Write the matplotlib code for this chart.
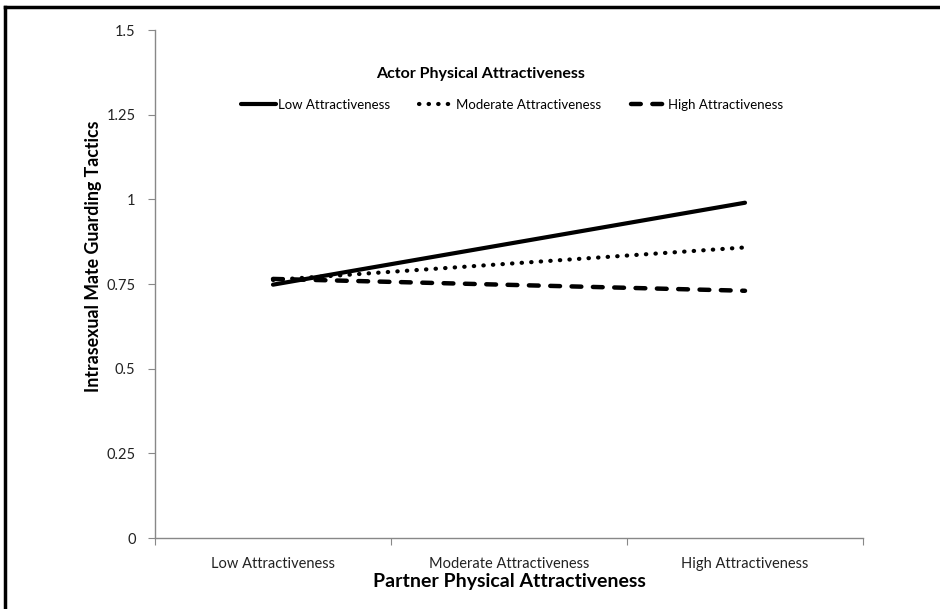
import matplotlib.pyplot as plt
from matplotlib.lines import Line2D

plt.rcParams['font.family'] = ['Lato', 'DejaVu Sans']

categories = ['Low Attractiveness', 'Moderate Attractiveness', 'High Attractiveness']
series_names = ['Low Attractiveness', 'Moderate Attractiveness', 'High Attractiveness']
x_points = [0, 2]
low_vals = [0.748, 0.99]
moderate_vals = [0.762, 0.858]
high_vals = [0.765, 0.73]
y_ticks = [0, 0.25, 0.5, 0.75, 1, 1.25, 1.5]
y_labels = ['0', '0.25', '0.5', '0.75', '1', '1.25', '1.5']

fig = plt.figure(figsize=(9.4, 6.09), dpi=100)
ax = fig.add_axes([155 / 940, 1 - 538 / 609, (863 - 155) / 940, (538 - 30) / 609])

ax.plot(x_points, low_vals, color='black', lw=3, solid_capstyle='round',
        label=series_names[0])
ax.plot(x_points, moderate_vals, color='black', lw=3, linestyle=(0, (0.1, 2.2)),
        dash_capstyle='round', label=series_names[1])
ax.plot(x_points, high_vals, color='black', lw=3.2, linestyle=(0, (2.2, 2.6)),
        dash_capstyle='round', label=series_names[2])

ax.set_xlim(-0.5, 2.5)
ax.set_ylim(0, 1.5)
ax.set_yticks(y_ticks)
ax.set_yticklabels(y_labels)
ax.set_xticks([-0.5, 0.5, 1.5, 2.5])
ax.set_xticklabels([])
ax.set_xticks([0, 1, 2], minor=True)
ax.set_xticklabels(categories, minor=True)
ax.tick_params(axis='x', which='minor', length=0, pad=14, labelsize=10.5, colors='#222222')
ax.tick_params(axis='x', which='major', length=5, color='#888888')
ax.tick_params(axis='y', length=5, color='#888888', labelsize=10.5, colors='#222222', pad=9)

for s in ['top', 'right']:
    ax.spines[s].set_visible(False)
for s in ['left', 'bottom']:
    ax.spines[s].set_color('#888888')
    ax.spines[s].set_linewidth(1)

ax.set_ylabel('Intrasexual Mate Guarding Tactics', fontsize=12.8, fontweight='bold')
ax.yaxis.set_label_coords(-(155 - 102) / 708, (538 - 256) / 508)
ax.set_xlabel('Partner Physical Attractiveness', fontsize=14, fontweight='bold', labelpad=1)

fig.text(481 / 940, 1 - 74 / 609, 'Actor Physical Attractiveness', ha='center', va='center',
         fontsize=11.5, fontweight='bold')
ax.legend(ncol=3, loc='center', bbox_to_anchor=(512 / 940, 1 - 105 / 609),
          bbox_transform=fig.transFigure, frameon=False, borderpad=0,
          fontsize=9.5, handlelength=2.6, handletextpad=0.2, columnspacing=2.2)

fig.add_artist(Line2D([5 / 940, 5 / 940], [0, 1 - 7 / 609], transform=fig.transFigure,
                      color='black', lw=2.5))
fig.add_artist(Line2D([5 / 940, 1], [1 - 7 / 609, 1 - 7 / 609], transform=fig.transFigure,
                      color='black', lw=2.5))

fig.savefig('out.png', dpi=100)
